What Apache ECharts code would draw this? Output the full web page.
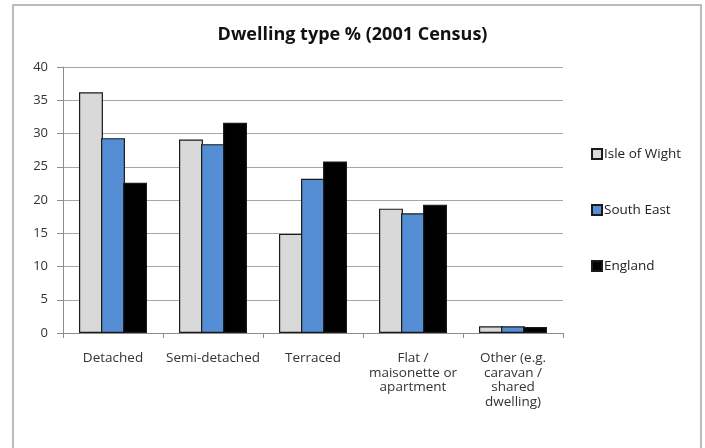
<!DOCTYPE html>
<html>
<head>
<meta charset="utf-8">
<script src="https://cdn.jsdelivr.net/npm/echarts@6/dist/echarts.min.js"></script>
<style>
  html, body { margin: 0; padding: 0; background: #fff; }
  #chart { width: 705px; height: 448px; }
</style>
</head>
<body>
<div id="chart"></div>
<script>
// Dwelling types, 2001 Census (% of dwellings)
const categories = [
  'Detached',
  'Semi-detached',
  'Terraced',
  'Flat /\nmaisonette or\napartment',
  'Other (e.g.\ncaravan /\nshared\ndwelling)'
];
const isleOfWight = [36.2, 29.1, 14.9, 18.7, 1.0];
const southEast   = [29.3, 28.4, 23.2, 18.0, 1.0];
const england     = [22.6, 31.6, 25.8, 19.3, 0.9];

const FONT = '"Open Sans", Lato, sans-serif';

const chart = echarts.init(document.getElementById('chart'), null, { renderer: 'canvas' });

function barSeries(name, data, color) {
  return {
    name: name,
    type: 'bar',
    data: data,
    barGap: '-8%',
    barCategoryGap: '32%',
    itemStyle: { color: color, borderColor: '#1a1a1a', borderWidth: 1.2 },
    animation: false
  };
}

chart.setOption({
  backgroundColor: '#ffffff',
  animation: false,
  title: {
    text: 'Dwelling type % (2001 Census)',
    left: 'center',
    top: 21,
    textStyle: { fontFamily: FONT, fontSize: 18, fontWeight: 'bold', color: '#111' }
  },
  graphic: [{
    type: 'rect',
    shape: { x: 13, y: 5, width: 688, height: 460 },
    style: { fill: 'none', stroke: '#a6a6a6', lineWidth: 1.5 },
    silent: true
  }],
  legend: {
    orient: 'vertical',
    left: 586,
    top: 142,
    itemGap: 42,
    itemWidth: 10,
    itemHeight: 10,
    icon: 'rect',
    textStyle: { fontFamily: FONT, fontSize: 13.5, color: '#222', padding: [0, 0, 0, -3] },
    data: ['Isle of Wight', 'South East', 'England']
  },
  grid: { left: 63, right: 142, top: 67, bottom: 115, containLabel: false },
  xAxis: {
    type: 'category',
    data: categories,
    axisLine: { lineStyle: { color: '#8c8c8c', width: 1 } },
    axisTick: { show: true, length: 5, lineStyle: { color: '#8c8c8c' } },
    axisLabel: {
      interval: 0,
      margin: 18,
      fontFamily: FONT,
      fontSize: 13.5,
      lineHeight: 14.5,
      color: '#333',
      align: 'center'
    }
  },
  yAxis: {
    type: 'value',
    min: 0,
    max: 40,
    interval: 5,
    axisLine: { show: true, lineStyle: { color: '#8c8c8c', width: 1 } },
    axisTick: { show: true, length: 6, lineStyle: { color: '#8c8c8c' } },
    splitLine: { lineStyle: { color: '#a6a6a6', width: 1 } },
    axisLabel: { fontFamily: FONT, fontSize: 13, color: '#333', margin: 15 }
  },
  series: [
    barSeries('Isle of Wight', isleOfWight, '#d9d9d9'),
    barSeries('South East', southEast, '#558ed5'),
    barSeries('England', england, '#000000')
  ]
});
</script>
</body>
</html>
